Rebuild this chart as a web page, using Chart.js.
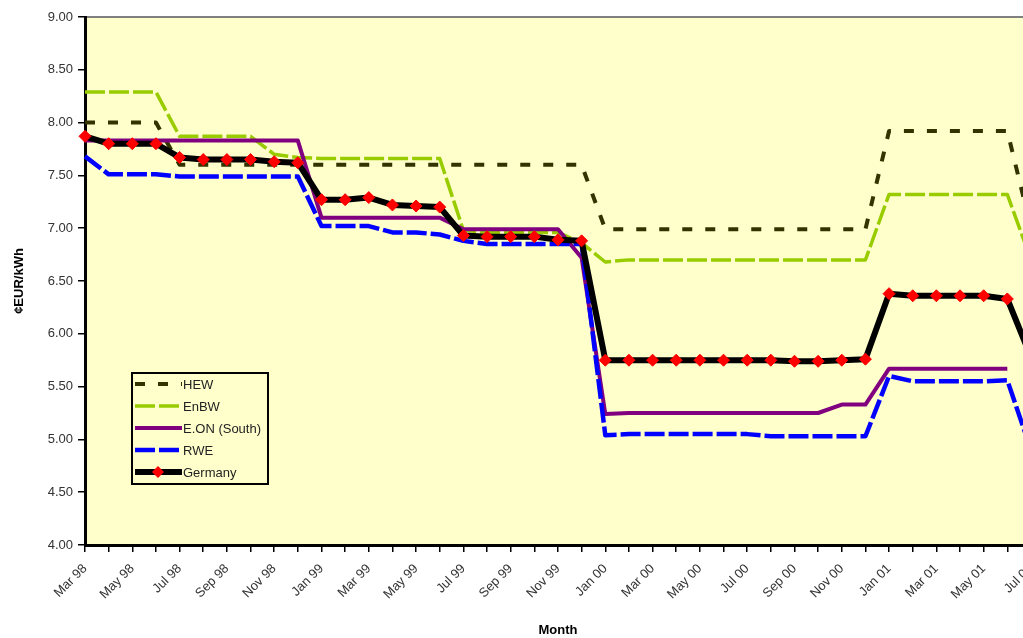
<!DOCTYPE html>
<html>
<head>
<meta charset="utf-8">
<script src="https://cdn.jsdelivr.net/npm/chart.js@4.4.1/dist/chart.umd.min.js"></script>
<style>
html, body { margin: 0; padding: 0; background: #fff; overflow: hidden; }
#wrap { position: relative; width: 1051px; height: 638px; }
</style>
</head>
<body>
<div id="wrap"><canvas id="priceChart" width="1051" height="638"></canvas></div>
<script>
const months = ['Mar 98','Apr 98','May 98','Jun 98','Jul 98','Aug 98','Sep 98','Oct 98','Nov 98','Dec 98',
    'Jan 99','Feb 99','Mar 99','Apr 99','May 99','Jun 99','Jul 99','Aug 99','Sep 99','Oct 99','Nov 99','Dec 99',
    'Jan 00','Feb 00','Mar 00','Apr 00','May 00','Jun 00','Jul 00','Aug 00','Sep 00','Oct 00','Nov 00','Dec 00',
    'Jan 01','Feb 01','Mar 01','Apr 01','May 01','Jun 01','Jul 01'];

const hew = [8.00, 8.00, 8.00, 8.00, 7.60, 7.60, 7.60, 7.60, 7.60, 7.60,
    7.60, 7.60, 7.60, 7.60, 7.60, 7.60, 7.60, 7.60, 7.60, 7.60, 7.60, 7.60,
    6.99, 6.99, 6.99, 6.99, 6.99, 6.99, 6.99, 6.99, 6.99, 6.99, 6.99, 6.99,
    7.92, 7.92, 7.92, 7.92, 7.92, 7.92, 7.00];

const enbw = [8.29, 8.29, 8.29, 8.29, 7.87, 7.87, 7.87, 7.87, 7.70, 7.67,
    7.66, 7.66, 7.66, 7.66, 7.66, 7.66, 6.98, 6.96, 6.96, 6.96, 6.96, 6.86,
    6.68, 6.70, 6.70, 6.70, 6.70, 6.70, 6.70, 6.70, 6.70, 6.70, 6.70, 6.70,
    7.32, 7.32, 7.32, 7.32, 7.32, 7.32, 6.70];

const eon = [7.83, 7.83, 7.83, 7.83, 7.83, 7.83, 7.83, 7.83, 7.83, 7.83,
    7.10, 7.10, 7.10, 7.10, 7.10, 7.10, 6.99, 6.99, 6.99, 6.99, 6.99, 6.72,
    5.24, 5.25, 5.25, 5.25, 5.25, 5.25, 5.25, 5.25, 5.25, 5.25, 5.33, 5.33,
    5.67, 5.67, 5.67, 5.67, 5.67, 5.67, null];

const rwe = [7.68, 7.51, 7.51, 7.51, 7.49, 7.49, 7.49, 7.49, 7.49, 7.49,
    7.02, 7.02, 7.02, 6.96, 6.96, 6.94, 6.88, 6.85, 6.85, 6.85, 6.85, 6.85,
    5.04, 5.05, 5.05, 5.05, 5.05, 5.05, 5.05, 5.03, 5.03, 5.03, 5.03, 5.03,
    5.60, 5.55, 5.55, 5.55, 5.55, 5.56, 4.90];

const germany = [7.87, 7.80, 7.80, 7.80, 7.67, 7.65, 7.65, 7.65, 7.63, 7.62,
    7.27, 7.27, 7.29, 7.22, 7.21, 7.20, 6.93, 6.92, 6.92, 6.92, 6.89, 6.88,
    5.75, 5.75, 5.75, 5.75, 5.75, 5.75, 5.75, 5.75, 5.74, 5.74, 5.75, 5.76,
    6.38, 6.36, 6.36, 6.36, 6.36, 6.33, 5.78];

const FONT = '"Liberation Sans", Arial, sans-serif';

// plot area fill + grey top border
const plotBack = {
    id: 'plotBack',
    beforeDraw(chart) {
        const a = chart.chartArea, ctx = chart.ctx;
        ctx.save();
        ctx.fillStyle = '#FFFFCC';
        ctx.fillRect(a.left, a.top, a.right - a.left, a.bottom - a.top);
        ctx.strokeStyle = '#808080';
        ctx.lineWidth = 2;
        ctx.beginPath();
        ctx.moveTo(a.left, a.top);
        ctx.lineTo(a.right + 10, a.top);
        ctx.stroke();
        ctx.restore();
    }
};

// boxed legend inside the plot, like the excel one
const boxLegend = {
    id: 'boxLegend',
    afterDraw(chart) {
        const ctx = chart.ctx;
        const left = 132, top = 373, w = 136, h = 111, rowH = 22;
        ctx.save();
        ctx.strokeStyle = '#000';
        ctx.lineWidth = 2;
        ctx.strokeRect(left, top, w, h);
        chart.data.datasets.forEach((ds, i) => {
            const y = top + 11 + i * rowH;
            ctx.beginPath();
            ctx.setLineDash(ds.borderDash || []);
            ctx.strokeStyle = ds.borderColor;
            ctx.lineWidth = ds.borderWidth;
            ctx.moveTo(left + 3, y);
            ctx.lineTo(left + 50, y);
            ctx.stroke();
            ctx.setLineDash([]);
            if (ds.pointRadius) {
                const r = ds.pointRadius, cx = left + 26;
                ctx.fillStyle = ds.pointBackgroundColor;
                ctx.beginPath();
                ctx.moveTo(cx - r, y);
                ctx.lineTo(cx, y - r);
                ctx.lineTo(cx + r, y);
                ctx.lineTo(cx, y + r);
                ctx.closePath();
                ctx.fill();
            }
            ctx.fillStyle = '#222';
            ctx.font = '13px ' + FONT;
            ctx.textBaseline = 'middle';
            ctx.fillText(ds.label, left + 51, y + 1);
        });
        ctx.restore();
    }
};

new Chart('priceChart', {
    type: 'line',
    data: {
        labels: months,
        datasets: [{
            label: 'HEW',
            data: hew,
            borderColor: '#333300',
            borderWidth: 4,
            borderDash: [10, 13],
            pointRadius: 0,
            order: 5
        },{
            label: 'EnBW',
            data: enbw,
            borderColor: '#99CC00',
            borderWidth: 3.5,
            borderDash: [20, 4],
            pointRadius: 0,
            order: 4
        },{
            label: 'E.ON (South)',
            data: eon,
            borderColor: '#800080',
            borderWidth: 4,
            pointRadius: 0,
            order: 3
        },{
            label: 'RWE',
            data: rwe,
            borderColor: '#0000FF',
            borderWidth: 4.5,
            borderDash: [20, 4],
            pointRadius: 0,
            order: 2
        },{
            label: 'Germany',
            data: germany,
            borderColor: '#000000',
            borderWidth: 6,
            pointStyle: 'rectRot',
            pointRadius: 6,
            pointBackgroundColor: '#FF0000',
            pointBorderColor: '#FF0000',
            pointBorderWidth: 1,
            order: 1
        }]
    },
    options: {
        responsive: false,
        animation: false,
        layout: { padding: { left: 8, top: 17, right: 10, bottom: 0 } },
        elements: { line: { tension: 0, fill: false, borderJoinStyle: 'round' } },
        plugins: {
            legend: { display: false },
            tooltip: { enabled: false }
        },
        scales: {
            x: {
                grid: { drawOnChartArea: false, drawTicks: true, tickLength: 7, color: '#000', lineWidth: 1.5 },
                border: { display: true, color: '#000', width: 3 },
                ticks: {
                    autoSkip: false,
                    maxRotation: 45,
                    minRotation: 45,
                    padding: 9,
                    color: '#333',
                    font: { family: FONT, size: 13 },
                    callback: (v, i) => i % 2 === 0 ? months[i] : ''
                },
                title: {
                    display: true,
                    text: 'Month',
                    color: '#000',
                    font: { family: FONT, size: 13, weight: 'bold' },
                    padding: { top: 4, bottom: 0 }
                },
                afterFit: scale => { scale.height = 93; }
            },
            y: {
                min: 4,
                max: 9,
                grid: { drawOnChartArea: false, drawTicks: true, tickLength: 7, color: '#000', lineWidth: 1.5 },
                border: { display: true, color: '#000', width: 3 },
                ticks: {
                    stepSize: 0.5,
                    padding: 5,
                    color: '#333',
                    font: { family: FONT, size: 13 },
                    callback: v => v.toFixed(2)
                },
                title: {
                    display: true,
                    text: '¢EUR/kWh',
                    color: '#000',
                    font: { family: FONT, size: 13, weight: 'bold' },
                    padding: { top: 4, bottom: 4 }
                },
                afterFit: scale => { scale.width = 77; }
            }
        }
    },
    plugins: [plotBack, boxLegend]
});
</script>
</body>
</html>
